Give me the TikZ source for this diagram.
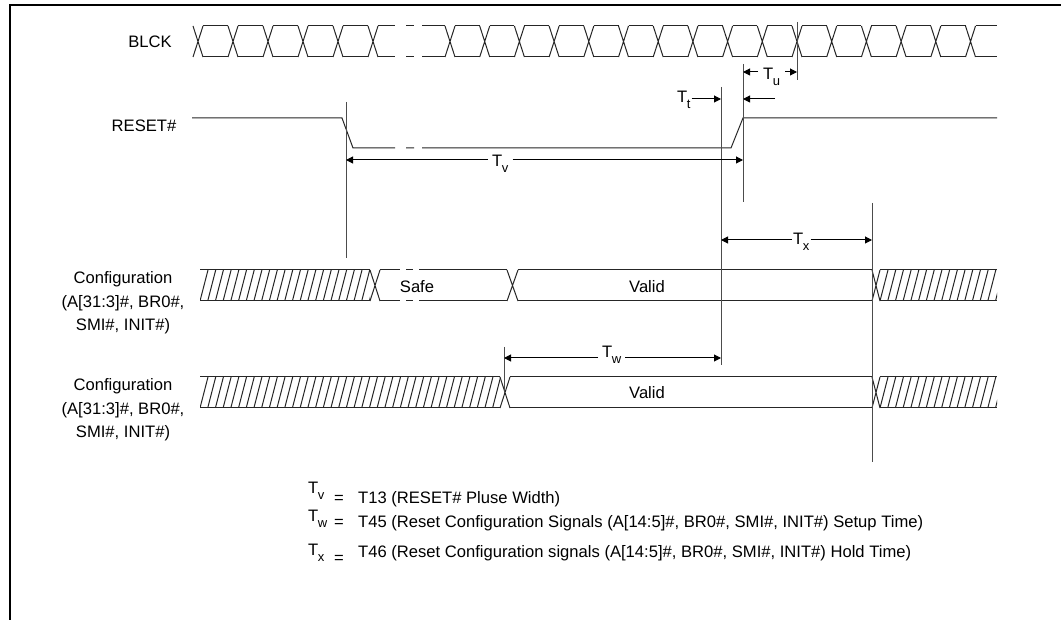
\documentclass[tikz,border=0pt]{standalone}
\usepackage{fontspec}
\setmainfont{Liberation Sans}
\usetikzlibrary{arrows.meta}
\newcommand\Tlab[1]{T\kern-0.5pt\raisebox{-6pt}{\fontsize{13}{13}\selectfont #1}}
\newcommand\hatchrow[4]{%
  \begin{scope}
    \clip (#1,#3) rectangle (#2,#4);
    \foreach \k in {0,...,45}{\pgfmathsetmacro\hx{#1+7.7*\k}\draw[sig] (\hx,#4)--(\hx+8,#3);}
  \end{scope}
  \draw[sig] (#1,#3)--(#2,#3) (#1,#4)--(#2,#4);}
\begin{document}
\begin{tikzpicture}[x=1pt,y=-1pt,
  font=\fontsize{16.6}{20}\selectfont,
  sig/.style={line width=1pt, black!85},
  vline/.style={line width=1pt, black!70},
  dim/.style={line width=1pt, black, -{Triangle[length=7pt,width=7pt]}},
  lbl/.style={inner ysep=0pt, anchor=base west},
  txt/.style={inner sep=0pt}]
\useasboundingbox[fill=white] (0,0) rectangle (1061,620);
% frame
\draw[line width=2.5pt] (1061,5) -- (10,5) -- (10,620);

% signal names
\node[txt] (nblck) at (150,42) {BLCK};
\node[txt] (nreset) at (144,126) {RESET\#};
\node[txt, align=center, font=\fontsize{16.6}{23.5}\selectfont] (ncfg1) at (123,303) {Configuration\\(A[31:3]\#, BR0\#,\\SMI\#, INIT\#)};
\node[txt, align=center, font=\fontsize{16.6}{23.5}\selectfont] (ncfg2) at (123,410) {Configuration\\(A[31:3]\#, BR0\#,\\SMI\#, INIT\#)};

% BLCK clock
\foreach \k in {0,...,5}{\pgfmathsetmacro\c{198+35*\k}
  \draw[sig] (\c-5,26)--(\c+5,57) (\c-5,57)--(\c+5,26);}
\foreach \k in {0,...,4}{\pgfmathsetmacro\c{198+35*\k}
  \draw[sig] (\c+5,26)--(\c+30,26) (\c+5,57)--(\c+30,57);}
\draw[sig] (378,26)--(395,26) (406,26)--(414,26) (422,26)--(445,26);
\draw[sig] (378,57)--(395,57) (406,57)--(414,57) (422,57)--(445,57);
\foreach \k in {0,...,15}{\pgfmathsetmacro\c{450+34.7*\k}
  \draw[sig] (\c-5,26)--(\c+5,57) (\c-5,57)--(\c+5,26);}
\foreach \k in {0,...,14}{\pgfmathsetmacro\c{450+34.7*\k}
  \draw[sig] (\c+5,26)--(\c+29.7,26) (\c+5,57)--(\c+29.7,57);}
\draw[sig] (975.5,26)--(997,26) (975.5,57)--(997,57);

% RESET#
\draw[sig] (192,118) -- (342,118) -- (353,148) -- (395,148)
  (406,148) -- (414,148) (422,148) -- (731,148) -- (743,118) -- (997,118);

% Configuration row 1
\hatchrow{200}{370}{270}{301}
\draw[sig] (370,270)--(380,301) (370,301)--(380,270);
\draw[sig] (380,270)--(400,270) (406,270)--(413,270) (419,270)--(507,270);
\draw[sig] (380,301)--(400,301) (406,301)--(413,301) (419,301)--(507,301);
\draw[sig] (507,270)--(518,301) (507,301)--(518,270);
\draw[sig] (518,270)--(872,270) (518,301)--(872,301);
\draw[sig] (872,270)--(880,301) (872,301)--(880,270);
\hatchrow{880}{997}{270}{301}
\node[txt] (nsafe) at (417,287) {Safe};
\node[txt] (nvalid1) at (647,287) {Valid};

% Configuration row 2
\hatchrow{200}{500}{377}{408}
\draw[sig] (500,377)--(510,408) (500,408)--(510,377);
\draw[sig] (510,377)--(872,377) (510,408)--(872,408);
\draw[sig] (872,377)--(880,408) (872,408)--(880,377);
\hatchrow{880}{997}{377}{408}
\node[txt] (nvalid2) at (647,393) {Valid};

% vertical reference lines
\coordinate (a1) at (346,102); \coordinate (a2) at (346,258);
\coordinate (b1) at (721,87);  \coordinate (b2) at (721,365);
\coordinate (c1) at (743,64);  \coordinate (c2) at (743,202);
\coordinate (d1) at (797,22);  \coordinate (d2) at (797,80);
\coordinate (e1) at (872,203); \coordinate (e2) at (872,462);
\coordinate (f1) at (504,347); \coordinate (f2) at (504,393);
\draw[vline] (a1)--(a2) (b1)--(b2) (c1)--(c2) (d1)--(d2) (e1)--(e2) (f1)--(f2);

% Tv
\coordinate (tvL) at (346,160); \coordinate (tvR) at (743,160);
\node[lbl, inner xsep=4pt] (tv) at (488,167) {\Tlab{v}};
\draw[dim] (tv.west |- tvL) -- (tvL);
\draw[dim] (tv.east |- tvR) -- (tvR);
% Tt
\coordinate (ttR) at (721,99);
\node[lbl, inner xsep=1pt] (tt) at (676,103) {\Tlab{t}};
\draw[dim] (tt.east |- ttR) -- (ttR);
\coordinate (tuFree) at (775,99); \coordinate (tuB) at (743,99);
\draw[dim] (tuFree) -- (tuB);
% Tu
\coordinate (tuL) at (743,72); \coordinate (tuR) at (797,72);
\node[lbl, inner xsep=5pt] (tu) at (758,80) {\Tlab{u}};
\draw[dim] (tu.west |- tuL) -- (tuL);
\draw[dim] (tu.east |- tuR) -- (tuR);
% Tx
\coordinate (txL) at (721,240); \coordinate (txR) at (872,240);
\node[lbl, inner xsep=1pt] (tx) at (792,245) {\Tlab{x}};
\draw[dim] (tx.west |- txL) -- (txL);
\draw[dim] (tx.east |- txR) -- (txR);
% Tw
\coordinate (twL) at (504,358); \coordinate (twR) at (721,358);
\node[lbl, inner xsep=4pt] (tw) at (598,358) {\Tlab{w}};
\draw[dim] (tw.west |- twL) -- (twL);
\draw[dim] (tw.east |- twR) -- (twR);

% legend
\node[txt, anchor=base west] (lv) at (308,493) {\Tlab{v}};
\node[txt, anchor=base] (eqv) at (339,503) {=};
\node[txt, anchor=base west] (lvt) at (358,503) {T13 (RESET\# Pluse Width)};
\node[txt, anchor=base west] (lw) at (308,521) {\Tlab{w}};
\node[txt, anchor=base] (eqw) at (339,527) {=};
\node[txt, anchor=base west] (lwt) at (358,527) {T45 (Reset Configuration Signals (A[14:5]\#, BR0\#, SMI\#, INIT\#) Setup Time)};
\node[txt, anchor=base west] (lx) at (308,555) {\Tlab{x}};
\node[txt, anchor=base] (eqx) at (339,563) {=};
\node[txt, anchor=base west] (lxt) at (358,557) {T46 (Reset Configuration signals (A[14:5]\#, BR0\#, SMI\#, INIT\#) Hold Time)};
\end{tikzpicture}
\end{document}
